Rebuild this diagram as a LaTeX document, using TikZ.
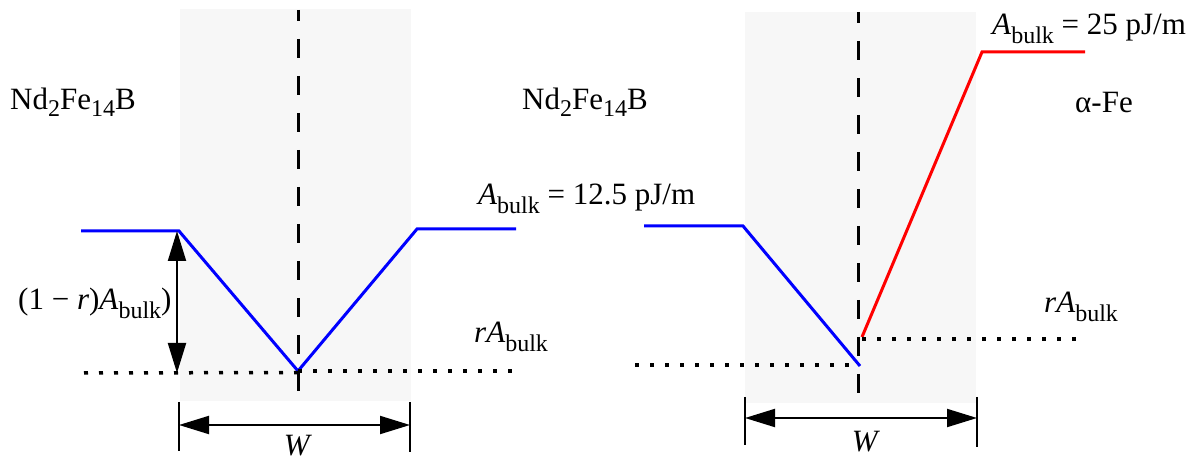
\documentclass[tikz,border=0pt]{standalone}
\usepackage{fontspec}
\setmainfont{Liberation Serif}
\newfontfamily\figserif{Liberation Serif}
\usetikzlibrary{arrows.meta}
\newcommand\lblfont{\figserif\fontsize{31}{36}\selectfont}
\newcommand\sbs[2][0.22em]{\raisebox{-#1}{\fontsize{24}{24}\selectfont #2}}
\newcommand\Ab{\textit{A}\sbs[0.28em]{bulk}}
\definecolor{zone}{HTML}{F7F7F7}
\definecolor{lineblue}{HTML}{0000FF}
\definecolor{linered}{HTML}{FF0000}
\begin{document}
\begin{tikzpicture}[x=1pt,y=-1pt,
  zonebox/.style={fill=zone,draw=none},
  midline/.style={line width=3pt,dash pattern=on 19pt off 18pt,dash phase=8pt},
  dotline/.style={line width=3.5pt,dash pattern=on 4pt off 11pt},
  bluecurve/.style={line width=3pt,lineblue,line join=miter},
  redcurve/.style={line width=3pt,linered,line join=miter},
  dimarrow/.style={line width=2pt,{Triangle[length=30pt,width=18pt]}-{Triangle[length=30pt,width=18pt]}},
  tick/.style={line width=2pt},
  lbl/.style={inner sep=0pt,anchor=base west,font=\lblfont}]
\useasboundingbox (0,0) rectangle (1203,462);

% ---------- left panel ----------
\fill[zonebox] (180,9) rectangle (411,401);
\coordinate (Ltop) at (298,10);
\coordinate (Lbot) at (298,400);
\draw[midline] (Ltop) -- (Lbot);

\coordinate (La) at (81,231);
\coordinate (Lb) at (179,231);
\coordinate (Lc) at (298,371);
\coordinate (Ld) at (417,229);
\coordinate (Le) at (516,229);
\draw[bluecurve] (La) -- (Lb) -- (Lc) -- (Ld) -- (Le);

\coordinate (Ldot1) at (84,373);
\coordinate (Ldot2) at (298,372.5);
\coordinate (Ldot3) at (298,371);
\coordinate (Ldot4) at (512,371);
\draw[dotline] (Ldot1) -- (Ldot2);
\draw[dotline] (Ldot3) -- (Ldot4);

\coordinate (Lvt) at (177,231);
\coordinate (Lvb) at (177,373);
\draw[dimarrow] (Lvt) -- (Lvb);

\coordinate (LtickLa) at (179,402);
\coordinate (LtickLb) at (179,451);
\coordinate (LtickRa) at (410,402);
\coordinate (LtickRb) at (410,452);
\draw[tick] (LtickLa) -- (LtickLb);
\draw[tick] (LtickRa) -- (LtickRb);
\coordinate (LwL) at (179,425);
\coordinate (LwR) at (410,425);
\draw[dimarrow] (LwL) -- (LwR);

\node[lbl] (ndL) at (10,110) {Nd\sbs{2}Fe\sbs{14}B};
\node[lbl] (ndR) at (522,110) {Nd\sbs{2}Fe\sbs{14}B};
\node[lbl] (oneminus) at (18,310) {(1 − \textit{r})\Ab)};
\node[lbl] (rAL) at (474,343) {\textit{rA}\sbs[0.28em]{bulk}};
\node[lbl] (A125) at (478,205) {\Ab\ = 12.5 pJ/m};
\node[lbl,anchor=base] (WL) at (298,455) {\textit{W}};

% ---------- right panel ----------
\fill[zonebox] (745,12) rectangle (976,403);
\coordinate (Rtop) at (858,12);
\coordinate (Rbot) at (858,400);
\draw[midline] (Rtop) -- (Rbot);

\coordinate (Ra) at (644,226);
\coordinate (Rb) at (743,226);
\coordinate (Rc) at (860,366);
\draw[bluecurve] (Ra) -- (Rb) -- (Rc);

\coordinate (Rr1) at (862,337);
\coordinate (Rr2) at (982,52);
\coordinate (Rr3) at (1085,52);
\draw[redcurve] (Rr1) -- (Rr2) -- (Rr3);

\coordinate (Rdot1) at (635,365);
\coordinate (Rdot2) at (858,365);
\coordinate (Rdot3) at (862,339);
\coordinate (Rdot4) at (1083,339);
\draw[dotline] (Rdot1) -- (Rdot2);
\draw[dotline] (Rdot3) -- (Rdot4);

\coordinate (RtickLa) at (745,397);
\coordinate (RtickLb) at (745,445);
\coordinate (RtickRa) at (977,397);
\coordinate (RtickRb) at (977,447);
\draw[tick] (RtickLa) -- (RtickLb);
\draw[tick] (RtickRa) -- (RtickRb);
\coordinate (RwL) at (745,418);
\coordinate (RwR) at (977,418);
\draw[dimarrow] (RwL) -- (RwR);

\node[lbl] (A25) at (992,35) {\Ab\ = 25 pJ/m};
\node[lbl] (alphaFe) at (1075,113) {α-Fe};
\node[lbl] (rAR) at (1044,313) {\textit{rA}\sbs[0.28em]{bulk}};
\node[lbl,anchor=base] (WR) at (866,451) {\textit{W}};
\end{tikzpicture}
\end{document}
